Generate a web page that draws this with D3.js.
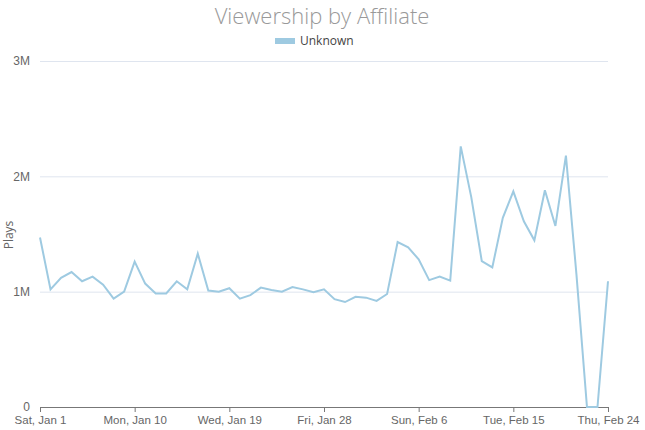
<!DOCTYPE html>
<meta charset="utf-8">
<title>Viewership by Affiliate</title>
<style>
body { margin: 0; background: #fff; }
svg { font-family: "Open Sans", sans-serif; }
.grid line { stroke: #dfe5ef; }
.grid path { display: none; }
.grid text { fill: #666; font-size: 12px; }
.axis--x path, .axis--x line { stroke: #777; }
.axis--x text { fill: #666; font-size: 11.5px; }
.line { fill: none; stroke: #9ecae1; stroke-width: 2px; }
</style>
<svg width="645" height="430"></svg>
<script src="https://d3js.org/d3.v7.min.js"></script>
<script>

var seriesName = "Unknown";
var startDate = "2022-01-01";
var plays = [1470000, 1020000, 1120000, 1170000, 1090000, 1130000, 1060000, 940000, 1000000, 1260000,
             1070000, 985000, 985000, 1090000, 1020000, 1330000, 1010000, 1000000, 1030000, 940000,
             970000, 1035000, 1015000, 1000000, 1040000, 1020000, 995000, 1020000, 935000, 910000,
             955000, 948000, 920000, 980000, 1430000, 1385000, 1280000, 1100000, 1130000, 1095000,
             2260000, 1820000, 1265000, 1210000, 1640000, 1870000, 1610000, 1445000, 1880000, 1570000,
             2180000, 1150000, 0, 0, 1090000];
var xTicks = ["2022-01-01", "2022-01-10", "2022-01-19", "2022-01-28", "2022-02-06", "2022-02-15", "2022-02-24"];
var yTicks = [0, 1000000, 2000000, 3000000];

var svg = d3.select("svg"),
    margin = {top: 61, right: 37, bottom: 23, left: 40},
    width = +svg.attr("width") - margin.left - margin.right,
    height = +svg.attr("height") - margin.top - margin.bottom;

var parse = d3.utcParse("%Y-%m-%d");
var t0 = parse(startDate);
var data = plays.map(function(v, i) {
  return {date: d3.utcDay.offset(t0, i), value: v};
});

var x = d3.scaleUtc()
    .domain(d3.extent(data, function(d) { return d.date; }))
    .range([0, width]);
var y = d3.scaleLinear().domain([0, 3000000]).range([height, 0]);

var g = svg.append("g")
    .attr("transform", "translate(" + margin.left + "," + margin.top + ")");

g.append("g")
    .attr("class", "grid")
    .call(d3.axisLeft(y)
      .tickValues(yTicks)
      .tickSize(-width)
      .tickPadding(10)
      .tickFormat(function(d) { return d === 0 ? "0" : (d / 1e6) + "M"; }))
    .selectAll(".tick").filter(function(d) { return d === 0; })
    .select("line").remove();

g.append("g")
    .attr("class", "axis axis--x")
    .attr("transform", "translate(0," + height + ")")
    .call(d3.axisBottom(x)
      .tickValues(xTicks.map(parse))
      .tickSize(5)
      .tickPadding(4)
      .tickSizeOuter(0)
      .tickFormat(d3.utcFormat("%a, %b %-d")));

g.append("path")
    .datum(data)
    .attr("class", "line")
    .attr("d", d3.line()
      .x(function(d) { return x(d.date); })
      .y(function(d) { return y(d.value); }));

svg.append("text")
    .attr("transform", "translate(13,235) rotate(-90)")
    .attr("text-anchor", "middle")
    .style("font-size", "12px")
    .style("fill", "#666")
    .text("Plays");

svg.append("text")
    .attr("x", 322)
    .attr("y", 24)
    .attr("text-anchor", "middle")
    .style("font-size", "22px")
    .style("font-weight", 300)
    .style("fill", "#999")
    .text("Viewership by Affiliate");

var legend = svg.append("g").attr("transform", "translate(275,41)");
legend.append("rect")
    .attr("x", 0).attr("y", -3)
    .attr("width", 20).attr("height", 6)
    .attr("fill", "#9ecae1");
legend.append("text")
    .attr("x", 25).attr("y", 4)
    .style("font-size", "12px")
    .style("fill", "#444")
    .text(seriesName);

</script>
